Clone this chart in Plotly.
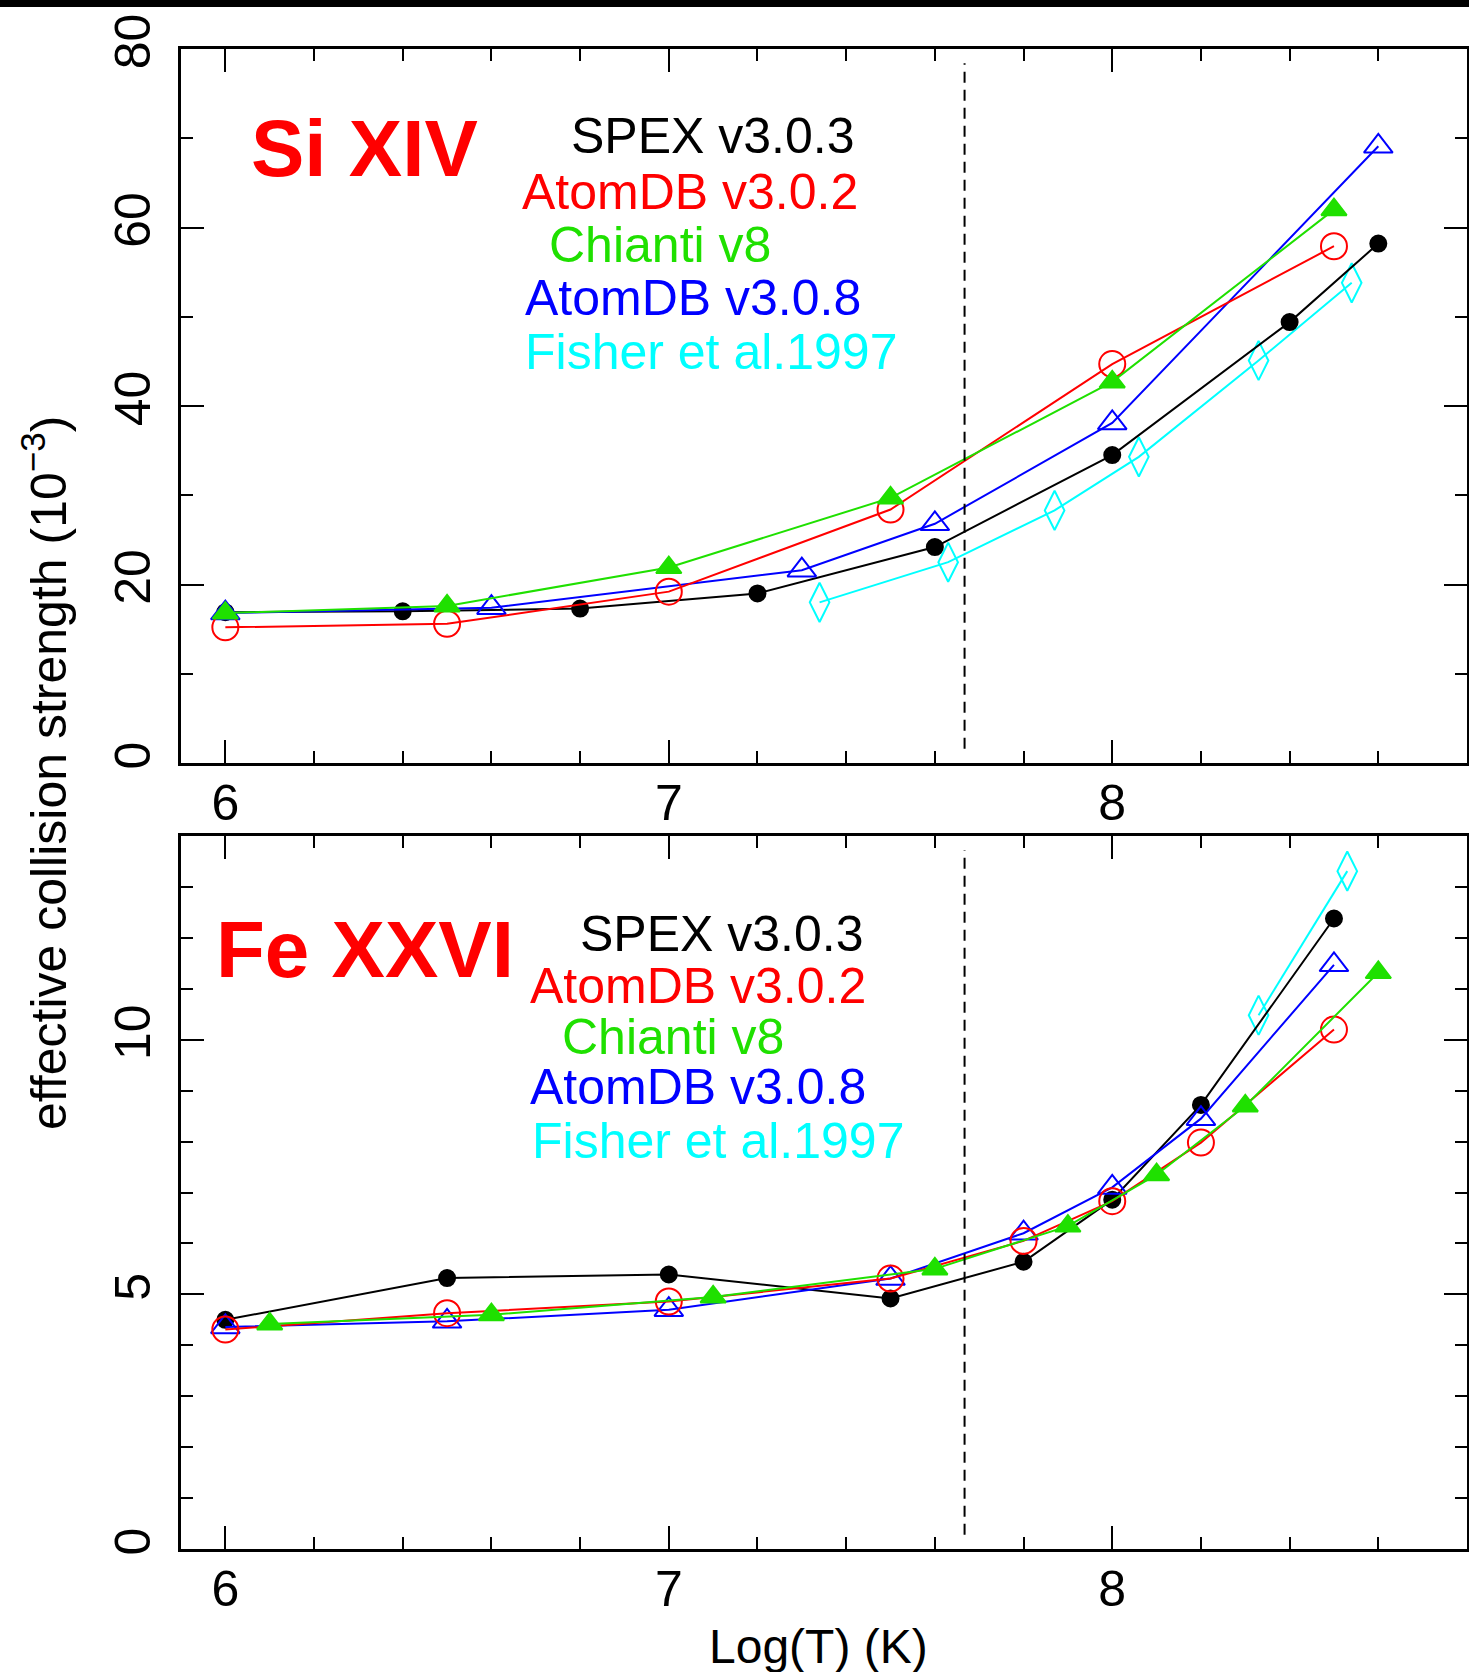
import plotly.graph_objects as go

W, H = 1469, 1672

# ---------------- Si XIV (top panel) ----------------
si_spex_x = [6.0, 6.4, 6.8, 7.2, 7.6, 8.0, 8.4, 8.6]
si_spex_y = [16.9, 17.0, 17.3, 19.0, 24.2, 34.5, 49.4, 58.2]
si_a302_x = [6.0, 6.5, 7.0, 7.5, 8.0, 8.5]
si_a302_y = [15.2, 15.6, 19.2, 28.4, 44.7, 57.9]
si_chi_x = [6.0, 6.5, 7.0, 7.5, 8.0, 8.5]
si_chi_y = [16.8, 17.6, 21.9, 29.7, 42.7, 62.0]
si_a308_x = [6.0, 6.6, 7.3, 7.6, 8.0, 8.6]
si_a308_y = [16.8, 17.4, 21.6, 26.8, 38.1, 69.1]
si_fis_x = [7.34, 7.63, 7.87, 8.06, 8.33, 8.54]
si_fis_y = [18.0, 22.5, 28.3, 34.3, 45.1, 53.8]

# ---------------- Fe XXVI (bottom panel) ----------------
fe_spex_x = [6.0, 6.5, 7.0, 7.5, 7.8, 8.0, 8.2, 8.5]
fe_spex_y = [4.50, 5.32, 5.39, 4.92, 5.64, 6.86, 8.72, 12.38]
fe_a302_x = [6.0, 6.5, 7.0, 7.5, 7.8, 8.0, 8.2, 8.5]
fe_a302_y = [4.31, 4.63, 4.86, 5.31, 6.05, 6.83, 7.98, 10.20]
fe_chi_x = [6.1, 6.6, 7.1, 7.6, 7.9, 8.1, 8.3, 8.6]
fe_chi_y = [4.42, 4.60, 4.95, 5.50, 6.34, 7.35, 8.70, 11.32]
fe_a308_x = [6.0, 6.5, 7.0, 7.5, 7.8, 8.0, 8.2, 8.5]
fe_a308_y = [4.36, 4.47, 4.70, 5.31, 6.20, 7.10, 8.45, 11.47]
fe_fis_x = [8.33, 8.53]
fe_fis_y = [10.48, 13.31]

dashed_x = 7.667

series_names = ["SPEX v3.0.3", "AtomDB v3.0.2", "Chianti v8", "AtomDB v3.0.8", "Fisher et al.1997"]
colors = ["#000000", "#ff0000", "#1fe000", "#0000ff", "#00ffff"]
symbols = ["circle", "circle-open", "triangle-up", "triangle-up-open", "diamond-tall-open"]
sizes = [16, 26, 22, 25, 28]

FONT = "Liberation Sans, Arial, Helvetica, sans-serif"

fig = go.Figure()

panels = [
    ("x", "y", [(si_spex_x, si_spex_y), (si_a302_x, si_a302_y), (si_chi_x, si_chi_y),
                (si_a308_x, si_a308_y), (si_fis_x, si_fis_y)]),
    ("x2", "y2", [(fe_spex_x, fe_spex_y), (fe_a302_x, fe_a302_y), (fe_chi_x, fe_chi_y),
                  (fe_a308_x, fe_a308_y), (fe_fis_x, fe_fis_y)]),
]
order = [4, 0, 3, 1, 2]
for xa, ya, data in panels:
    for i in order:
        xs, ys = data[i]
        fig.add_trace(go.Scatter(
            x=xs, y=ys, xaxis=xa, yaxis=ya, mode="lines+markers",
            name=series_names[i], showlegend=False,
            line=dict(color=colors[i], width=2),
            marker=dict(symbol=symbols[i], size=sizes[i], color=colors[i],
                        line=dict(color=colors[i], width=2)),
        ))


def px(x):
    return x / W


def py(y):
    return 1 - y / H


xdom = [px(181), px(1467)]
top_dom = [py(763), py(49)]
bot_dom = [py(1549), py(836)]

common_x = dict(range=[5.9, 8.8], tick0=6, dtick=1, ticks="inside", ticklen=23, tickwidth=2,
                tickcolor="black", showline=True, linewidth=2.5, linecolor="black",
                mirror="allticks", showgrid=False, zeroline=False, automargin=False,
                tickfont=dict(family=FONT, size=50, color="black"),
                ticklabelstandoff=-6,
                minor=dict(dtick=0.2, tick0=6, ticks="inside", ticklen=12, tickwidth=2,
                           tickcolor="black", showgrid=False))
common_y = dict(ticks="inside", ticklen=23, tickwidth=2, tickcolor="black", showline=True,
                linewidth=2.5, linecolor="black", mirror="allticks", showgrid=False,
                zeroline=False, tickangle=-90, automargin=False,
                tickfont=dict(family=FONT, size=50, color="black"),
                ticklabelstandoff=8)

fig.update_layout(
    width=W, height=H, autosize=False,
    margin=dict(l=0, r=0, t=0, b=0, pad=0),
    paper_bgcolor="white", plot_bgcolor="white",
    font=dict(family=FONT, color="black"),
    xaxis=dict(domain=xdom, anchor="y", **common_x),
    yaxis=dict(domain=top_dom, anchor="x", range=[0, 80], tick0=0, dtick=20,
               minor=dict(dtick=10, ticks="inside", ticklen=12, tickwidth=2,
                          tickcolor="black", showgrid=False),
               **common_y),
    xaxis2=dict(domain=xdom, anchor="y2", **common_x),
    yaxis2=dict(domain=bot_dom, anchor="x2", range=[0, 14], tickvals=[0, 5, 10],
                minor=dict(dtick=1, ticks="inside", ticklen=12, tickwidth=2,
                           tickcolor="black", showgrid=False),
                **common_y),
)

# dashed vertical lines
for xr, yr in [("x", "y domain"), ("x2", "y2 domain")]:
    fig.add_shape(type="line", xref=xr, yref=yr, x0=dashed_x, x1=dashed_x, y0=0.02, y1=0.98,
                  line=dict(color="black", width=2, dash="11px,7px"))

# black band at the top
fig.add_shape(type="rect", xref="paper", yref="paper", x0=0, x1=1, y0=py(7), y1=1,
              fillcolor="black", line=dict(width=0), layer="above")

annotations = []
# panel titles
annotations.append(dict(text="<b>Si XIV</b>", x=px(250), y=py(149), xanchor="left", yanchor="middle",
                        font=dict(family=FONT, size=80, color="#ff0000")))
annotations.append(dict(text="<b>Fe XXVI</b>", x=px(215), y=py(949), xanchor="left", yanchor="middle",
                        font=dict(family=FONT, size=80, color="#ff0000")))

top_leg = [(570, 136), (521, 192), (548, 245), (524, 298), (524, 352)]
bot_leg = [(579, 934), (529, 986), (561, 1037), (529, 1087), (531, 1141)]
for pos in (top_leg, bot_leg):
    for i, (lx, ly) in enumerate(pos):
        annotations.append(dict(text=series_names[i], x=px(lx), y=py(ly), xanchor="left",
                                yanchor="middle",
                                font=dict(family=FONT, size=50, color=colors[i])))

annotations.append(dict(text="effective collision strength (10<sup>\u22123</sup>)", x=px(45), y=py(773),
                        xanchor="center", yanchor="middle", textangle=-90,
                        font=dict(family=FONT, size=50, color="black")))
annotations.append(dict(text="Log(T) (K)", x=px(818), y=py(1646), xanchor="center", yanchor="middle",
                        font=dict(family=FONT, size=48, color="black")))

for a in annotations:
    a.update(xref="paper", yref="paper", showarrow=False, borderpad=0)
fig.update_layout(annotations=annotations)

fig.write_html("out.html")
